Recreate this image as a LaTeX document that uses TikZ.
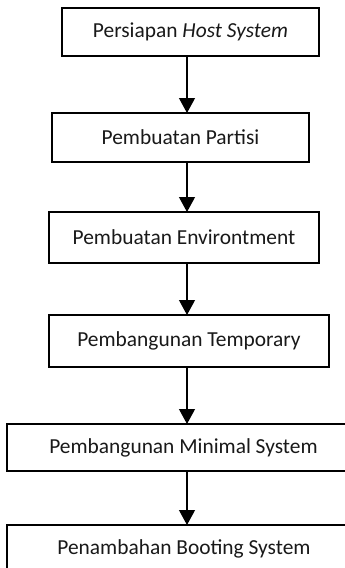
\documentclass[tikz,border=0pt]{standalone}
\usepackage{fontspec}
\setmainfont{Carlito}
\usetikzlibrary{arrows.meta}
\begin{document}
\begin{tikzpicture}[x=0.5pt,y=-0.5pt,
  stepbox/.style={draw=black,line width=1pt,fill=white,inner sep=0pt,outer sep=0pt,
    font=\fontsize{10.7}{13}\selectfont,text=black!90},
  arr/.style={draw=black,line width=0.6pt,-{Triangle[length=7.5pt,width=8pt]}}]
\useasboundingbox (0,0) rectangle (344,568);
\node[stepbox,minimum width=128.5pt,minimum height=24pt] (b1) at (190.5,32) {Persiapan \textit{Host System}};
\node[stepbox,minimum width=128.5pt,minimum height=24.5pt] (b2) at (180.5,137.5) {Pembuatan Partisi};
\node[stepbox,minimum width=135pt,minimum height=25.5pt] (b3) at (184,237.5) {Pembuatan Environtment};
\node[stepbox,minimum width=140pt,minimum height=26pt] (b4) at (189,341) {Pembangunan Temporary};
\node[stepbox,minimum width=177pt,minimum height=23.5pt] (b5) at (183.5,447.5) {Pembangunan Minimal System};
\node[stepbox,minimum width=177pt,minimum height=23.5pt] (b6) at (184,548.5) {Penambahan Booting System};
\coordinate (ax) at (187,0);
\draw[arr] (b1.south -| ax) -- (b2.north -| ax);
\draw[arr] (b2.south -| ax) -- (b3.north -| ax);
\draw[arr] (b3.south -| ax) -- (b4.north -| ax);
\draw[arr] (b4.south -| ax) -- (b5.north -| ax);
\draw[arr] (b5.south -| ax) -- (b6.north -| ax);
\end{tikzpicture}
\end{document}
